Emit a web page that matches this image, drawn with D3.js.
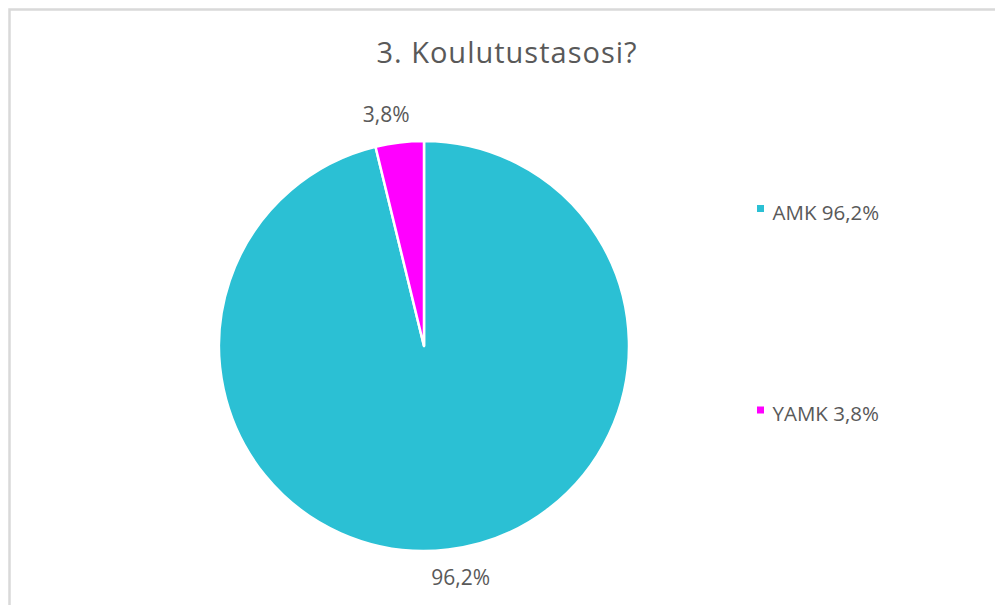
<!DOCTYPE html>
<html>
<head>
<meta charset="utf-8">
<script src="https://cdn.jsdelivr.net/npm/d3@7"></script>
<style>
  body { margin: 0; background: #fff; }
  text { font-family: "Open Sans", sans-serif; fill: #595959; }
</style>
</head>
<body>
<svg id="chart" width="995" height="605"></svg>
<script>
// chart data
var categories = ['AMK', 'YAMK'];
var shares = [96.2, 3.8];
var labels = ['96,2%', '3,8%'];
var colours = ['#2bc0d4', '#ff00ff'];
var title = '3. Koulutustasosi?';

var svg = d3.select('#chart');
var W = 995, H = 605;

// chart area border (only top and left edges are in the picture)
svg.append('rect').attr('x', 9.5).attr('y', 9.5).attr('width', W).attr('height', H)
    .style('fill', '#fff').style('stroke', '#d9d9d9').style('stroke-width', 2.5);

svg.append('text').attr('x', 507).attr('y', 63).attr('text-anchor', 'middle')
    .style('font-size', '29px').style('letter-spacing', '1px').text(title);

var cx = 424, cy = 346, r = 205;

var pie = d3.pie().sort(null).value(function(d) { return d; });
var arcs = pie(shares);
var arc = d3.arc().innerRadius(0).outerRadius(r);

var g = svg.append('g').attr('transform', 'translate(' + cx + ',' + cy + ')');

g.selectAll('path.slice').data(arcs).enter().append('path')
    .attr('class', 'slice')
    .attr('d', arc)
    .style('fill', function(d, i) { return colours[i]; })
    .style('stroke', '#fff').style('stroke-width', 2.5).style('stroke-linejoin', 'round');

// data labels, outside end
g.selectAll('text.lbl').data(arcs).enter().append('text')
    .attr('class', 'lbl')
    .attr('text-anchor', 'middle')
    .style('font-size', '21px')
    .attr('x', function(d) {
        var a = (d.startAngle + d.endAngle) / 2;
        return Math.sin(a) * (r + 28) + (Math.sin(a) < 0 ? -10 : 9);
    })
    .attr('y', function(d) {
        var a = (d.startAngle + d.endAngle) / 2;
        return -Math.cos(a) * (r + 28) + 7.5;
    })
    .text(function(d, i) { return labels[i]; });

// legend
var legend = svg.append('g').attr('transform', 'translate(757,0)');
var legY = d3.scalePoint().domain(categories).range([208.5, 410]);

var item = legend.selectAll('g').data(categories).enter().append('g')
    .attr('transform', function(d) { return 'translate(0,' + legY(d) + ')'; });
item.append('rect').attr('x', 0).attr('y', -3.5).attr('width', 7).attr('height', 7)
    .style('fill', function(d, i) { return colours[i]; });
item.append('text').attr('x', 15.5).attr('y', 11)
    .style('font-size', '20.5px')
    .text(function(d, i) { return d + ' ' + labels[i]; });
</script>
</body>
</html>
